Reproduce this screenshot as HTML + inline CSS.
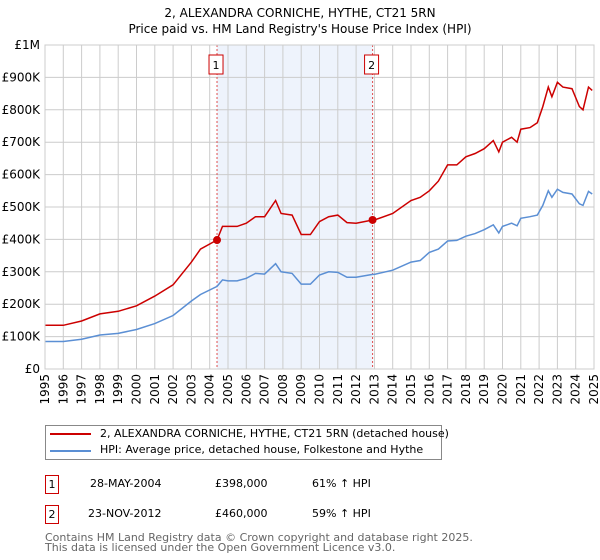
<!DOCTYPE html>
<html><head><meta charset="utf-8"><style>
body{margin:0;background:#fff;font-family:"DejaVu Sans","Liberation Sans",sans-serif;}
#wrap{position:relative;width:600px;height:560px;overflow:hidden}
.t{position:absolute;font-size:12px;color:#000;white-space:nowrap}
</style></head><body><div id="wrap">
<svg id="chart" width="600" height="420" style="position:absolute;left:0;top:0"></svg>
<div style="position:absolute;left:45px;top:425px;width:397px;height:35px;border:1px solid #888;box-sizing:border-box"></div>
<div style="position:absolute;left:50px;top:433px;width:41px;height:2px;background:#cc0000"></div>
<div class="t" style="left:100px;top:427px;font-size:11px">2, ALEXANDRA CORNICHE, HYTHE, CT21 5RN (detached house)</div>
<div style="position:absolute;left:50px;top:450px;width:41px;height:2px;background:#5b8fd4"></div>
<div class="t" style="left:100px;top:443px;font-size:11px">HPI: Average price, detached house, Folkestone and Hythe</div>
<div class="t" style="left:45px;top:475px;width:14px;height:19px;border:1px solid #cc0000;box-sizing:border-box;text-align:center;line-height:17px;font-size:11px">1</div>
<div class="t" style="left:90px;top:477px;font-size:11px">28-MAY-2004</div>
<div class="t" style="left:215px;top:477px;font-size:11px">£398,000</div>
<div class="t" style="left:312px;top:477px;font-size:11px">61% ↑ HPI</div>
<div class="t" style="left:45px;top:505px;width:14px;height:19px;border:1px solid #cc0000;box-sizing:border-box;text-align:center;line-height:17px;font-size:11px">2</div>
<div class="t" style="left:88px;top:507px;font-size:11px">23-NOV-2012</div>
<div class="t" style="left:215px;top:507px;font-size:11px">£460,000</div>
<div class="t" style="left:312px;top:507px;font-size:11px">59% ↑ HPI</div>
<div class="t" style="left:45px;top:533px;font-size:11px;color:#666;line-height:10px">Contains HM Land Registry data © Crown copyright and database right 2025.<br>This data is licensed under the Open Government Licence v3.0.</div>
</div>
<script>
const years=[1995,1996,1997,1998,1999,2000,2001,2002,2003,2003.5,2004.4,2004.7,2005,2005.5,2006,2006.5,2007,2007.6,2007.9,2008.5,2009,2009.5,2010,2010.5,2011,2011.5,2012,2012.9,2013,2014,2015,2015.5,2016,2016.5,2017,2017.5,2018,2018.5,2019,2019.5,2019.8,2020,2020.5,2020.8,2021,2021.5,2021.9,2022.2,2022.5,2022.7,2023,2023.3,2023.8,2024.2,2024.4,2024.7,2024.9];
const priceK=[135,135,148,170,178,195,225,260,330,370,398,440,440,440,450,470,470,520,480,475,415,415,455,470,475,452,450,460,460,480,520,530,550,580,630,630,655,665,680,705,670,700,715,700,740,745,760,810,870,840,885,870,865,810,800,870,860];
const hpiK=[85,85,92,105,110,122,140,165,210,230,255,275,272,272,280,295,293,325,300,295,262,262,290,300,298,283,283,292,292,305,330,335,360,370,395,397,410,418,430,445,420,440,450,442,465,470,475,505,550,530,555,545,540,510,505,548,540];
const saleYears=[2004.4,2012.9];
const salePrices=[398,460];
const yTicks=[0,100,200,300,400,500,600,700,800,900,1000];
const yTickLabels=["£0","£100K","£200K","£300K","£400K","£500K","£600K","£700K","£800K","£900K","£1M"];
const xTicks=[1995,1996,1997,1998,1999,2000,2001,2002,2003,2004,2005,2006,2007,2008,2009,2010,2011,2012,2013,2014,2015,2016,2017,2018,2019,2020,2021,2022,2023,2024,2025];
const L=45,R=594,T=45,B=369;
const X=y=>L+(y-1995)/30*(R-L);
const Y=v=>B-v/1000*(B-T);
const svg=document.getElementById('chart');const NS='http://www.w3.org/2000/svg';
function mk(tag,at){const e=document.createElementNS(NS,tag);for(const k in at)e.setAttribute(k,at[k]);svg.appendChild(e);return e;}
let t;
t=mk('text',{x:300,y:17,'text-anchor':'middle','font-size':12,'font-family':'DejaVu Sans, sans-serif'});t.textContent='2, ALEXANDRA CORNICHE, HYTHE, CT21 5RN';

t=mk('text',{x:300,y:33,'text-anchor':'middle','font-size':12,'font-family':'DejaVu Sans, sans-serif'});t.textContent="Price paid vs. HM Land Registry's House Price Index (HPI)";

let sh=mk('rect',{x:X(saleYears[0]),y:T,width:X(saleYears[1])-X(saleYears[0]),height:B-T,fill:'#eef3fc'});

yTicks.forEach((v,i)=>{let g=mk('line',{x1:L,x2:R,y1:Y(v),y2:Y(v),stroke:'#ccc'});

let tx=mk('text',{x:L-5,y:Y(v)+4,'text-anchor':'end','font-size':12,'font-family':'DejaVu Sans, sans-serif'});tx.textContent=yTickLabels[i];
});
xTicks.forEach(v=>{let g=mk('line',{x1:X(v),x2:X(v),y1:T,y2:B,stroke:'#ccc'});

let tx=mk('text',{x:0,y:0,'text-anchor':'end','font-size':12,'font-family':'DejaVu Sans, sans-serif',transform:`translate(${X(v)+4},${B+5}) rotate(-90)`});tx.textContent=v;
});
saleYears.forEach((s,i)=>{let l=mk('line',{x1:X(s),x2:X(s),y1:T,y2:B,stroke:'#e05050','stroke-dasharray':'2,2'});

let r=mk('rect',{x:X(s)-8,y:55,width:14,height:19,fill:'#fff',stroke:'#cc0000'});

let tx=mk('text',{x:X(s)-1,y:69,'text-anchor':'middle','font-size':11,'font-family':'DejaVu Sans, sans-serif'});tx.textContent=i+1;
});
const path=a=>a.map((v,i)=>(i?'L':'M')+X(years[i]).toFixed(1)+','+Y(v).toFixed(1)).join('');
let hp=mk('path',{d:path(hpiK),fill:'none',stroke:'#5b8fd4','stroke-width':1.5});

let pp=mk('path',{d:path(priceK),fill:'none',stroke:'#cc0000','stroke-width':1.5});

saleYears.forEach((s,i)=>{let c=mk('circle',{cx:X(s),cy:Y(salePrices[i]),r:4,fill:'#cc0000'});
});
let ax=mk('rect',{x:L,y:T,width:R-L,height:B-T,fill:'none',stroke:'#ccc'});

</script></body></html>
